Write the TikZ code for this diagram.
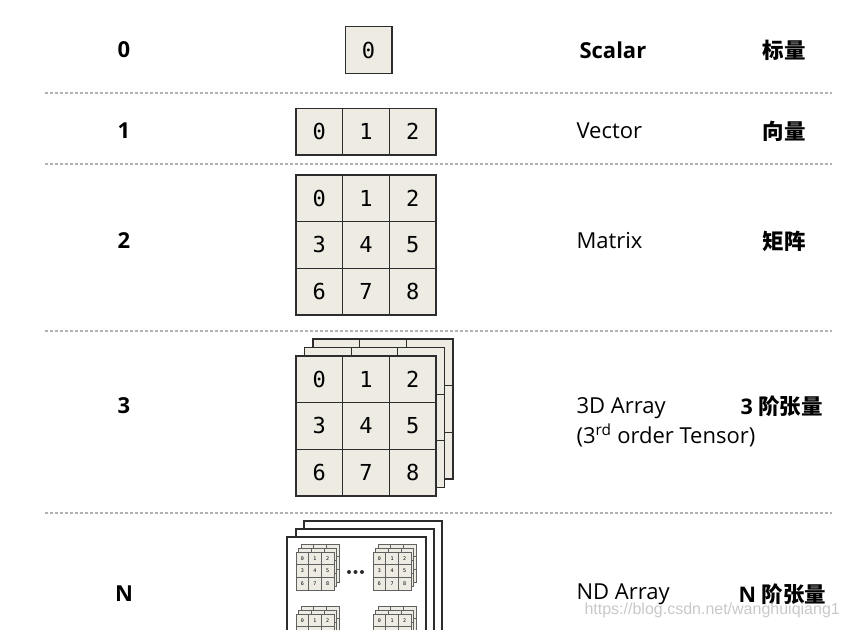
\documentclass[tikz,border=0pt]{standalone}
\usepackage{fontspec}
\setmainfont{Open Sans}
\newfontfamily\cellfont{DejaVu Sans Mono}
\newfontfamily\cjk{Noto Sans CJK SC}
\newfontfamily\markfont{Liberation Sans}
\usetikzlibrary{positioning,calc}
\definecolor{CellFill}{RGB}{237,235,226}
\definecolor{CellLine}{RGB}{45,45,45}
\definecolor{DashGray}{RGB}{178,178,178}
\definecolor{MarkGray}{RGB}{200,200,200}
\tikzset{
  cell/.style={draw=CellLine,fill=CellFill,line width=1.3pt,minimum size=46.7pt,
    inner sep=0pt,font=\cellfont\fontsize{22}{26}\selectfont},
  sheet/.style={draw=CellLine,fill=CellFill,line width=1.3pt},
  minicell/.style={draw=CellLine!75,fill=CellFill,line width=0.5pt,minimum size=12.7pt,
    inner sep=0pt,font=\cellfont\fontsize{5}{6}\selectfont},
  minisheet/.style={draw=CellLine!75,fill=CellFill,line width=0.5pt},
  paper/.style={draw=CellLine,fill=white,line width=1.4pt},
  divider/.style={draw=DashGray,line width=1.3pt,dash pattern=on 3pt off 2pt},
  ranklabel/.style={font=\bfseries\fontsize{22}{26}\selectfont},
  term/.style={anchor=west,align=left,font=\fontsize{22}{30}\selectfont},
  zh/.style={anchor=west,font=\bfseries\fontsize{21.5}{26}\selectfont},
  watermark/.style={anchor=west,text=MarkGray,font=\markfont\fontsize{16}{18}\selectfont},
  pics/minitensor/.style={code={
    \foreach \d in {2,1}{
      \begin{scope}[shift={(2.5*\d,-4*\d)}]
        \draw[minisheet] (0,0) rectangle (38,38);
        \draw[minisheet] (12.67,0) -- (12.67,38) (25.33,0) -- (25.33,38)
          (0,12.67) -- (38,12.67) (0,25.33) -- (38,25.33);
      \end{scope}}
    \foreach \r in {0,1,2}
      \foreach \c in {0,1,2}{
        \pgfmathtruncatemacro\v{3*\r+\c}
        \node[minicell] (-\v) at (6.33+12.67*\c,6.33+12.67*\r) {\v};
      }
  }}
}

\begin{document}
\begin{tikzpicture}[x=1pt,y=-1pt]
  \clip (0,0) rectangle (843,629);

  % separators
  \draw[divider] (45,93) -- (832,93);
  \draw[divider] (45,164) -- (832,164);
  \draw[divider] (45,331) -- (832,331);
  \draw[divider] (45,513) -- (832,513);

  % rank column
  \node[ranklabel] (r0) at (124,50) {0};
  \node[ranklabel] (r1) at (124,131) {1};
  \node[ranklabel] (r2) at (124,241) {2};
  \node[ranklabel] (r3) at (124,406) {3};
  \node[ranklabel] (rN) at (124,594) {N};

  % scalar and vector
  \node[cell] (s0) at (368.5,50) {0};
  \foreach \c in {0,1,2}
    \node[cell] (v\c) at (319.3+46.67*\c,131.5) {\c};

  % matrix
  \foreach \r in {0,1,2}
    \foreach \c in {0,1,2}{
      \pgfmathtruncatemacro\v{3*\r+\c}
      \node[cell] (m\v) at (319.3+46.67*\c,198.3+46.67*\r) {\v};
    }

  % 3d array: back sheets, then front grid
  \foreach \d in {17,8.5}{
    \begin{scope}[shift={(296+\d,356-\d)}]
      \draw[sheet] (0,0) rectangle (140,140);
      \draw[sheet] (46.67,0) -- (46.67,140) (93.33,0) -- (93.33,140)
        (0,46.67) -- (140,46.67) (0,93.33) -- (140,93.33);
    \end{scope}}
  \foreach \r in {0,1,2}
    \foreach \c in {0,1,2}{
      \pgfmathtruncatemacro\v{3*\r+\c}
      \node[cell] (t\v) at (319.3+46.67*\c,379.3+46.67*\r) {\v};
    }

  % nd array
  \draw[paper] (304,521) rectangle (442,660);
  \draw[paper] (296,529) rectangle (434,660);
  \draw[paper] (287,537) rectangle (426,660);
  \pic (tl) at (296,552) {minitensor};
  \pic (tr) at (373,552) {minitensor};
  \pic (bl) at (296,614) {minitensor};
  \pic (br) at (373,614) {minitensor};
  \foreach \x in {349,355.5,362}
    \fill[CellLine] (\x,572) circle (2pt);

  % names
  \node[term,font=\bfseries\fontsize{22}{30}\selectfont] (scalar) at (576,50) {Scalar};
  \node[term] (vector) at (573,131) {Vector};
  \node[term] (matrix) at (573,241) {Matrix};
  \node[term] (array3) at (573,422) {3D Array\\(3\textsuperscript{rd} order Tensor)};
  \node[term] (arrayN) at (573,594) {ND Array};

  \node[zh] (zh0) at (759,50) {\cjk 标量};
  \node[zh] (zh1) at (759,131) {\cjk 向量};
  \node[zh] (zh2) at (759,241) {\cjk 矩阵};
  \node[zh] (zh3) at (737,406) {3 {\cjk 阶张量}};
  \node[zh] (zhN) at (735,594) {N {\cjk 阶张量}};

  \node[watermark] (wm) at (581,610) {https://blog.csdn.net/wanghuiqiang1};
\end{tikzpicture}
\end{document}
